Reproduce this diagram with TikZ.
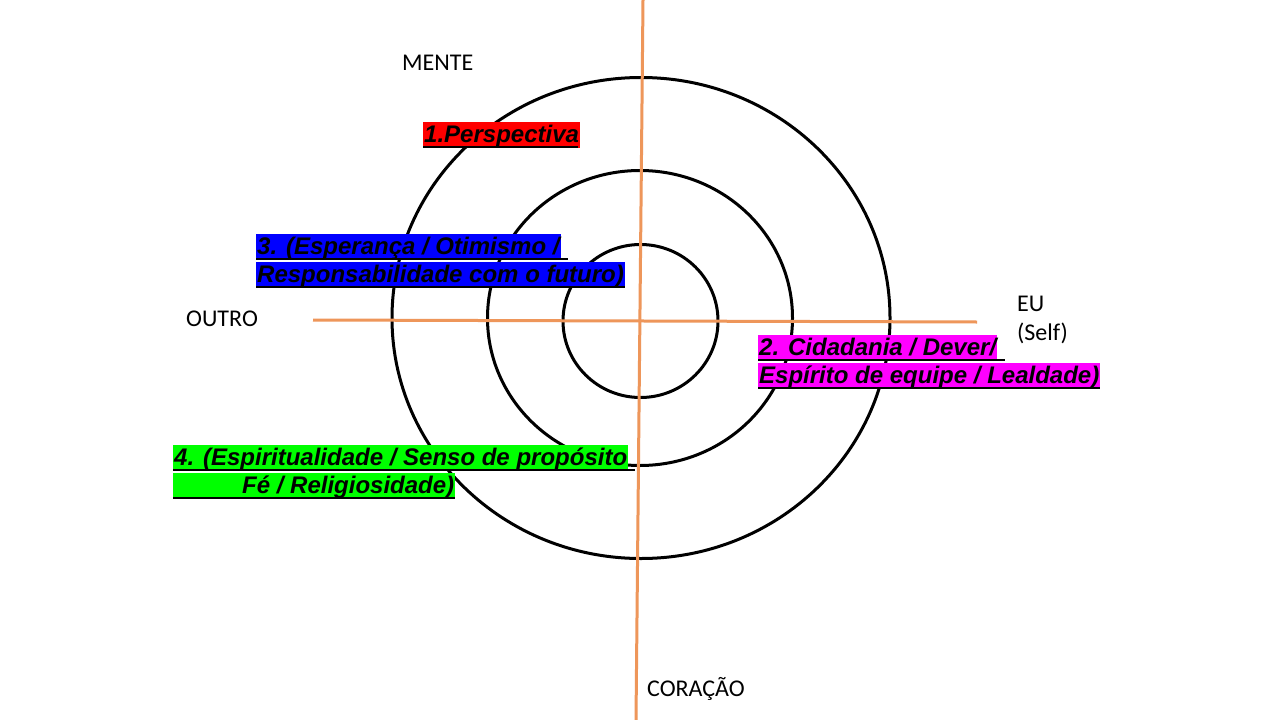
\documentclass[tikz,border=0pt]{standalone}
\usepackage{fontspec}
\setmainfont{Carlito}
\newfontfamily\arialfont{Liberation Sans}
\definecolor{axisorange}{RGB}{238,150,90}
\definecolor{hlred}{RGB}{255,0,0}
\definecolor{hlblue}{RGB}{0,0,255}
\definecolor{hlmag}{RGB}{255,0,255}
\definecolor{hlgreen}{RGB}{0,255,0}
\tikzset{
  lab/.style={font=\fontsize{24}{29}\selectfont, inner sep=0pt, anchor=base west},
  hl/.style={font=\arialfont\bfseries\itshape\fontsize{24}{28}\selectfont,
    inner xsep=1pt, inner ysep=0pt, text height=20pt, text depth=6pt, anchor=base west},
  ring/.style={draw=black, line width=3pt},
  axisline/.style={draw=axisorange, line width=3pt},
  ul/.style={draw=black, line width=2.5pt}
}
\begin{document}
\begin{tikzpicture}[x=1pt,y=-1pt]
\useasboundingbox (0,0) rectangle (1280,720);
\fill[white] (0,0) rectangle (1280,720);
% rings
\draw[ring] (641,318) ellipse [x radius=249, y radius=240.5];
\draw[ring] (640,318) ellipse [x radius=152.5, y radius=147.5];
\draw[ring] (640.5,321) ellipse [x radius=77.5, y radius=76.5];
% axes
\coordinate (vt) at (643,0);
\coordinate (vb) at (636,720);
\coordinate (hl) at (313,320);
\coordinate (hr) at (977,322);
\draw[axisline] (vt) -- (vb);
\draw[axisline] (hl) -- (hr);
% axis labels
\node[lab] (mente) at (402,70) {MENTE};
\node[lab] (outro) at (186,326) {OUTRO};
\node[lab, align=left, anchor=north west] (eu) at (1017,296) {EU\\(Self)};
\node[lab] (coracao) at (647,696) {CORAÇÃO};
% 1 red
\node[hl, fill=hlred] (r1) at (423,142) {1.Perspectiva};
\draw[ul] ([yshift=1.2pt]r1.south west) -- ([yshift=1.2pt,xshift=-2pt]r1.south east);
% 3 blue
\node[hl, fill=hlblue] (b1) at (256,254) {3. (Esperança / Otimismo /};
\node[hl, fill=hlblue] (b2) at (256,282) {Responsabilidade com o futuro)};
\draw[ul] ([yshift=1.2pt]b1.south west) -- ([yshift=1.2pt,xshift=7pt]b1.south east);
\draw[ul] ([yshift=1.2pt]b2.south west) -- ([yshift=1.2pt]b2.south east);
% 2 magenta
\node[hl, fill=hlmag] (m1) at (758,355) {2. Cidadania / Dever/};
\node[hl, fill=hlmag] (m2) at (758,383) {Espírito de equipe / Lealdade)};
\draw[ul] ([yshift=1.2pt]m1.south west) -- ([yshift=1.2pt,xshift=8pt]m1.south east);
\draw[ul] ([yshift=1.2pt]m2.south west) -- ([yshift=1.2pt]m2.south east);
% 4 green
\node[hl, fill=hlgreen] (g1) at (173,465) {4. (Espiritualidade / Senso de propósito};
\node[hl, fill=hlgreen] (g2) at (173,493) {\hspace*{68pt}Fé / Religiosidade)};
\draw[ul] ([yshift=1.2pt]g1.south west) -- ([yshift=1.2pt,xshift=7pt]g1.south east);
\draw[ul] ([yshift=1.2pt]g2.south west) -- ([yshift=1.2pt]g2.south east);
\end{tikzpicture}
\end{document}
